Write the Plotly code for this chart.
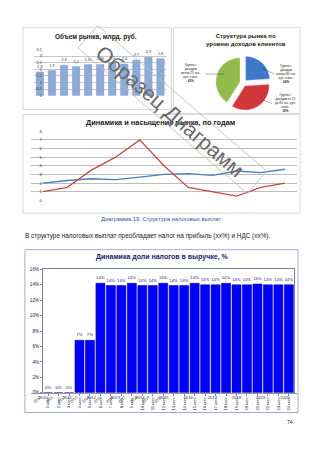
import math
import plotly.graph_objects as go

W, H = 320, 453
def X(p): return p / W
def Y(p): return 1 - p / H

# ---------------- data ----------------
years = list(range(2010, 2021))
market_volume = [1.8, 1.9, 2.3, 2.2, 2.35, 2.36, 2.5, 2.4, 2.7, 2.9, 2.8]
volume_ticks = [0, 0.5, 1, 1.5, 2, 2.5, 3, 3.5]

income_groups = ["Группа с<br>доходом<br>свыше 80 тыс.<br>руб. в мес.",
                 "Группа с<br>доходом от 25<br>до 80 тыс. руб.<br>в мес.",
                 "Группа с<br>доходом<br>менее 25 тыс.<br>руб. в мес."]
income_share = [24, 35, 41]

saturation_blue = [2.0, 2.3, 2.5, 2.4, 2.7, 3.0, 3.1, 2.9, 3.4, 3.2, 3.6]
saturation_red = [1.0, 1.5, 3.5, 5.0, 7.0, 4.0, 1.5, 1.0, 0.5, 1.5, 2.0]
saturation_ticks = [0, 1, 2, 3, 4, 5, 6, 7, 8]

months = [f"{i} мес" for i in range(1, 25)]
tax_share = [0, 0, 0, 6.8, 6.8, 14.2, 13.9, 13.9, 14.2, 13.9, 13.9, 14.2,
             13.9, 13.9, 14.2, 14.0, 14.0, 14.2, 14.0, 14.0, 14.1, 14.0, 14.0, 14.0]
tax_ticks = [0, 2, 4, 6, 8, 10, 12, 14, 16]

FONT = "Liberation Sans"
fig = go.Figure()

# ---------- bottom chart: tax share ----------
fig.add_trace(go.Bar(
    x=months, y=[v / 100 for v in tax_share],
    text=[f"{round(v)}%" for v in tax_share], textposition="outside",
    textfont=dict(size=4.2, color="#1a1a6e", family=FONT), cliponaxis=False,
    marker=dict(color="#0000ff", line=dict(color="#0000a0", width=0.6)),
    xaxis="x", yaxis="y"))

# ---------- top-left: market volume ----------
fig.add_trace(go.Bar(
    x=years, y=market_volume,
    text=[str(v).replace(".", ",") for v in market_volume], textposition="outside",
    textfont=dict(size=3.8, color="#333", family=FONT), cliponaxis=False,
    marker=dict(color="#8eaad6", line=dict(color="#7a96c4", width=0.4)),
    width=0.62, xaxis="x2", yaxis="y2"))

# ---------- line chart ----------
fig.add_trace(go.Scatter(x=years, y=saturation_blue, mode="lines",
                         line=dict(color="#4a7ebb", width=1.3), xaxis="x3", yaxis="y3"))
fig.add_trace(go.Scatter(x=years, y=saturation_red, mode="lines",
                         line=dict(color="#be4b48", width=1.3), xaxis="x3", yaxis="y3"))

# ---------- pie ----------
fig.add_trace(go.Pie(
    values=income_share, labels=income_groups, sort=False, direction="clockwise",
    rotation=0, pull=[0.14, 0.14, 0.14], textinfo="none", hoverinfo="label+percent",
    marker=dict(colors=["#3f78c8", "#d0363a", "#8fbc4a"], line=dict(color="white", width=0.3)),
    domain=dict(x=[X(214), X(272)], y=[Y(109), Y(53)])))

tickfont_small = dict(size=4.2, color="#333", family=FONT)
fig.update_layout(
    width=W, height=H, margin=dict(l=0, r=0, t=0, b=0),
    paper_bgcolor="white", plot_bgcolor="rgba(0,0,0,0)", showlegend=False,
    bargap=0.14,
    xaxis=dict(domain=[X(42), X(294)], type="category", tickangle=-90,
               tickfont=dict(size=4.2, color="#1a1a4e", family=FONT),
               showline=True, linecolor="#8080a0", linewidth=0.8, mirror=True,
               ticks="outside", ticklen=2, tickcolor="#8080a0", showgrid=False),
    yaxis=dict(domain=[Y(395), Y(270)], range=[0, 0.16],
               tickvals=[t / 100 for t in tax_ticks], ticktext=[f"{t}%" for t in tax_ticks],
               tickfont=dict(size=4.6, color="#1a1a4e", family=FONT),
               showline=True, linecolor="#8080a0", linewidth=0.8, mirror=True,
               ticks="outside", ticklen=2, tickcolor="#8080a0", showgrid=False, zeroline=False),
    xaxis2=dict(domain=[X(33), X(166)], range=[2009.5, 2020.5], tickvals=years,
                tickangle=-45, tickfont=dict(size=3.8, color="#333", family=FONT),
                showgrid=False, showline=True, linecolor="#999", linewidth=0.5, zeroline=False),
    yaxis2=dict(domain=[Y(94), Y(47)], range=[0, 3.5], tickvals=volume_ticks,
                ticktext=[str(t).replace(".0", "").replace(".", ",") for t in volume_ticks],
                tickfont=dict(size=3.8, color="#333", family=FONT),
                showgrid=True, gridcolor="#c8c8c8", gridwidth=0.5, zeroline=False),
    xaxis3=dict(domain=[X(30), X(297)], range=[2009.5, 2020.5], tickvals=years,
                tickfont=tickfont_small, showgrid=False, showline=True,
                linecolor="#999", linewidth=0.6, zeroline=False),
    yaxis3=dict(domain=[Y(200), Y(130)], range=[0, 8], tickvals=saturation_ticks,
                tickfont=tickfont_small, showgrid=True, gridcolor="#bdbdbd",
                gridwidth=0.6, zeroline=False),
)

shapes = []
def rect(x0, y0, x1, y1, color, w=0.8):
    shapes.append(dict(type="rect", xref="paper", yref="paper",
                       x0=X(x0), x1=X(x1), y0=Y(y1), y1=Y(y0),
                       line=dict(color=color, width=w)))
rect(22, 25, 171, 108, "#d0d0d0")
rect(173, 25, 300, 112, "#d0d0d0")
rect(22, 113, 300, 213, "#d0d0d0")
rect(24, 250, 298, 415, "#a8a8d8", 1)

# watermark rotated rectangle
cx, cy, L, Wd, ang = 172, 108, 225, 30, math.radians(41)
ux, uy = math.cos(ang), math.sin(ang)
vx, vy = -uy, ux
pts = []
for a, b in [(-1, -1), (1, -1), (1, 1), (-1, 1)]:
    px = cx + a * L / 2 * ux + b * Wd / 2 * vx
    py = cy + a * L / 2 * uy + b * Wd / 2 * vy
    pts.append((X(px), Y(py)))
path = "M " + " L ".join(f"{p[0]:.4f},{p[1]:.4f}" for p in pts) + " Z"
shapes.append(dict(type="path", xref="paper", yref="paper", path=path,
                   line=dict(color="#bbbbbb", width=0.8)))

# pie leader lines
for (x0, y0, x1, y1) in [(262, 66, 274, 72), (262, 98, 272, 102), (224, 72, 205, 72)]:
    shapes.append(dict(type="line", xref="paper", yref="paper",
                       x0=X(x0), y0=Y(y0), x1=X(x1), y1=Y(y1),
                       line=dict(color="#333", width=0.4)))

annotations = []
def text(x, y, s, size, color="#222", bold=False, xanchor="center", angle=0, family=FONT):
    annotations.append(dict(x=X(x), y=Y(y), xref="paper", yref="paper", showarrow=False,
                            text=f"<b>{s}</b>" if bold else s, xanchor=xanchor, yanchor="middle",
                            textangle=angle,
                            font=dict(size=size, color=color, family=family)))

text(95, 34, "Объем рынка, млрд. руб.", 6.5, "#222", True)
text(246, 37, "Структура рынка по<br>уровню доходов клиентов", 6.0, "#222", True)
text(160, 121, "Динамика и насыщение рынка, по годам", 7.4, "#222", True)

pie_pos = [(286, 72), (285, 101), (191, 71)]
for (x, y), lab, v in zip(pie_pos, income_groups, income_share):
    text(x, y, f"{lab}<br><b>{v}%</b>", 3.0, "#222")

text(170, 110, "Образец Диаграмм", 21, "#6a6a6a", False, "center", 41)

text(160, 219, "Диаграмма 19. Структура налоговых выплат", 5.8, "#3553a6")
text(22, 236, "В структуре налоговых выплат преобладает налог на прибыль (хх%) и НДС (хх%).",
     6.4, "#222", False, "left")
text(162, 257, "Динамика доли налогов в выручке, %", 7.0, "#1a1a6e", True)
text(290, 425, "74", 5, "#333")

fig.update_layout(shapes=shapes, annotations=annotations)
fig.write_html("out.html")
